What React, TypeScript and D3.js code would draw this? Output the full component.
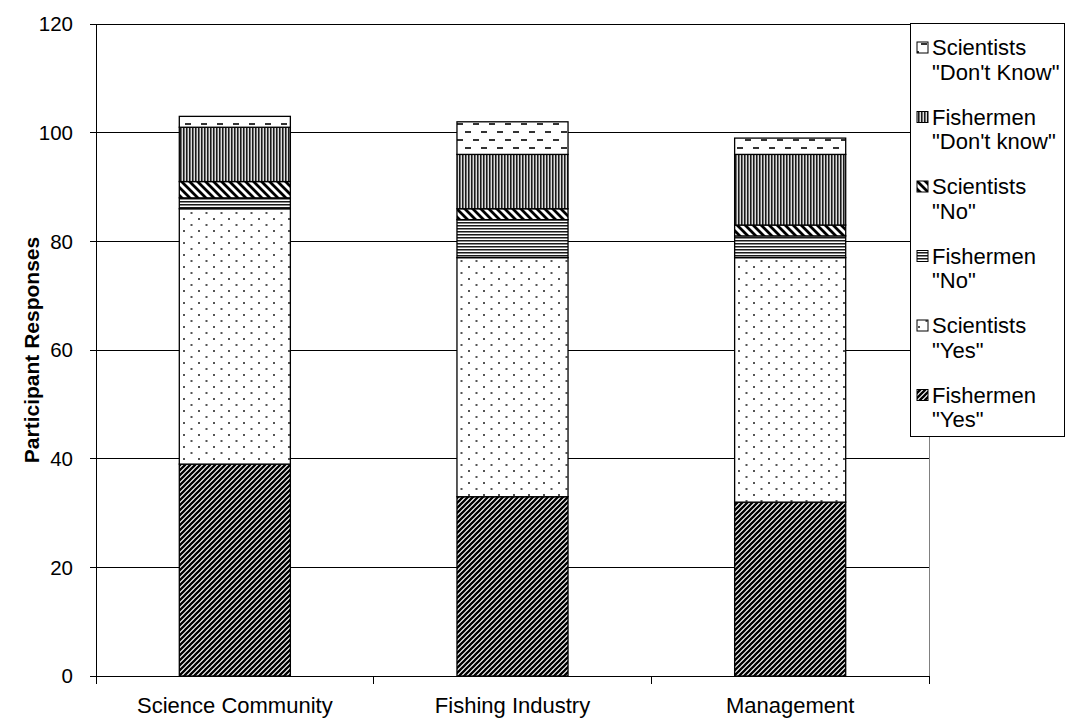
import React from "react";
import * as d3 from "d3";

// Survey responses by group, stacked bottom-to-top in this order
const categories = ["Science Community", "Fishing Industry", "Management"];
const fishermenYes = [39, 33, 32];
const scientistsYes = [47, 44, 45];
const fishermenNo = [2, 7, 4];
const scientistsNo = [3, 2, 2];
const fishermenDontKnow = [10, 10, 13];
const scientistsDontKnow = [2, 6, 3];

const seriesKeys = ["fYes", "sYes", "fNo", "sNo", "fDk", "sDk"];
const seriesLabels: Record<string, [string, string]> = {
  fYes: ["Fishermen", '"Yes"'],
  sYes: ["Scientists", '"Yes"'],
  fNo: ["Fishermen", '"No"'],
  sNo: ["Scientists", '"No"'],
  fDk: ["Fishermen", '"Don\'t know"'],
  sDk: ["Scientists", '"Don\'t Know"'],
};
const yTicks = [0, 20, 40, 60, 80, 100, 120];

const W = 1065;
const H = 724;
const M = { left: 96, right: 929, top: 24, bottom: 676 };
const FONT = "'Liberation Sans', Arial, sans-serif";

export default function App() {
  const rows = categories.map((c, i) => ({
    cat: c,
    fYes: fishermenYes[i],
    sYes: scientistsYes[i],
    fNo: fishermenNo[i],
    sNo: scientistsNo[i],
    fDk: fishermenDontKnow[i],
    sDk: scientistsDontKnow[i],
  }));
  const stacked = d3.stack<any>().keys(seriesKeys)(rows);

  const x = d3
    .scaleBand()
    .domain(categories)
    .range([M.left, M.right])
    .paddingInner(0.6)
    .paddingOuter(0.3);
  const y = d3.scaleLinear().domain([0, 120]).range([M.bottom, M.top]);
  const step = x.step();

  const legendX = 910;
  const legendY = 23;
  const legendKeys = [...seriesKeys].reverse();

  return (
    <svg
      width={W}
      height={H}
      style={{ position: "absolute", left: 0, top: 0, background: "#fff" }}
      fontFamily={FONT}
    >
      <defs>
        <pattern id="p-fYes" width={5} height={5} patternUnits="userSpaceOnUse">
          <rect width={5} height={5} fill="#fff" />
          <path d="M-1,6 L6,-1 M-3,3 L3,-3 M2,8 L8,2" stroke="#000" strokeWidth={2.3} />
        </pattern>
        <pattern id="p-sYes" width={15} height={12} patternUnits="userSpaceOnUse">
          <rect width={15} height={12} fill="#fff" />
          <rect x={3} y={2} width={2} height={2} fill="#555" />
          <rect x={10.5} y={8} width={2} height={2} fill="#555" />
        </pattern>
        <pattern id="p-fNo" width={4} height={3} patternUnits="userSpaceOnUse">
          <rect width={4} height={3} fill="#fff" />
          <rect y={0} width={4} height={1} fill="#1a1a1a" />
          <rect y={1} width={4} height={1} fill="#888" />
        </pattern>
        <pattern id="p-sNo" width={8} height={8} patternUnits="userSpaceOnUse">
          <rect width={8} height={8} fill="#fff" />
          <path d="M-1,-1 L9,9 M-5,3 L5,13 M3,-5 L13,5" stroke="#000" strokeWidth={2.8} />
        </pattern>
        <pattern id="p-fDk" width={3} height={4} patternUnits="userSpaceOnUse">
          <rect width={3} height={4} fill="#dcdcdc" />
          <rect x={0} width={1} height={4} fill="#1a1a1a" />
          <rect x={1} width={1} height={4} fill="#707070" />
        </pattern>
        <pattern id="p-sDk" width={16} height={16} patternUnits="userSpaceOnUse">
          <rect width={16} height={16} fill="#fff" />
          <rect x={1} y={3} width={6} height={2} fill="#333" />
          <rect x={9} y={11} width={6} height={2} fill="#333" />
        </pattern>
      </defs>

      {/* gridlines */}
      {yTicks.map((t) => (
        <line
          key={"g" + t}
          x1={M.left}
          x2={M.right}
          y1={y(t)}
          y2={y(t)}
          stroke="#000"
          strokeWidth={1}
          shapeRendering="crispEdges"
        />
      ))}
      {/* right border of plot area */}
      <line
        x1={M.right}
        x2={M.right}
        y1={M.top}
        y2={M.bottom}
        stroke="#808080"
        strokeWidth={1}
        shapeRendering="crispEdges"
      />

      {/* stacked bars */}
      {stacked.map((s) => (
        <g key={s.key}>
          {s.map((d, i) => (
            <rect
              key={i}
              x={x(categories[i])!}
              width={x.bandwidth()}
              y={y(d[1])}
              height={y(d[0]) - y(d[1])}
              fill={`url(#p-${s.key})`}
              stroke="#000"
              strokeWidth={1.3}
            />
          ))}
        </g>
      ))}

      {/* y axis */}
      <line
        x1={M.left}
        x2={M.left}
        y1={M.top}
        y2={M.bottom}
        stroke="#000"
        strokeWidth={1}
        shapeRendering="crispEdges"
      />
      {yTicks.map((t) => (
        <g key={"t" + t}>
          <line
            x1={M.left - 6}
            x2={M.left}
            y1={y(t)}
            y2={y(t)}
            stroke="#000"
            shapeRendering="crispEdges"
          />
          <text
            x={M.left - 23}
            y={y(t)}
            dy="0.35em"
            textAnchor="end"
            fontSize={20.5}
            fill="#000"
          >
            {t}
          </text>
        </g>
      ))}
      <text
        transform={`translate(39,${(M.top + M.bottom) / 2}) rotate(-90)`}
        textAnchor="middle"
        fontSize={21}
        fontWeight="bold"
        fill="#000"
      >
        Participant Responses
      </text>

      {/* x axis */}
      {[0, 1, 2, 3].map((i) => (
        <line
          key={"xt" + i}
          x1={M.left + i * step}
          x2={M.left + i * step}
          y1={M.bottom}
          y2={M.bottom + 8}
          stroke="#000"
          shapeRendering="crispEdges"
        />
      ))}
      {categories.map((c) => (
        <text
          key={c}
          x={x(c)! + x.bandwidth() / 2}
          y={713}
          textAnchor="middle"
          fontSize={22}
          fill="#000"
        >
          {c}
        </text>
      ))}

      {/* legend */}
      <rect
        x={legendX}
        y={legendY}
        width={W - legendX - 1}
        height={413}
        fill="#fff"
        stroke="#000"
        strokeWidth={1}
        shapeRendering="crispEdges"
      />
      {legendKeys.map((k, i) => {
        const by = 55 + i * 69.5;
        return (
          <g key={"l" + k}>
            <rect
              x={917}
              y={by - 13}
              width={11}
              height={11}
              fill={`url(#p-${k})`}
              stroke="#000"
              strokeWidth={1}
            />
            <text x={932} y={by} fontSize={22} fill="#000">
              {seriesLabels[k][0]}
            </text>
            <text x={932} y={by + 24.5} fontSize={22} fill="#000">
              {seriesLabels[k][1]}
            </text>
          </g>
        );
      })}
    </svg>
  );
}
